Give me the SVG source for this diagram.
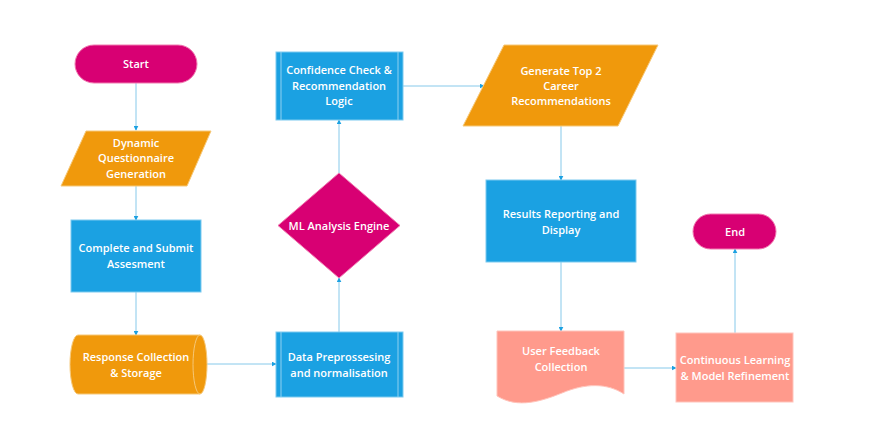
<svg xmlns="http://www.w3.org/2000/svg" width="871" height="444" viewBox="0 0 871 444">
<defs>
<style>
.t{font-family:"Open Sans","Liberation Sans",sans-serif;font-size:11px;font-weight:600;fill:#ffffff;text-anchor:middle}
.pink{fill:#d80073;stroke:#f07ab0;stroke-width:1}
.orange{fill:#f0990c;stroke:#f6c878;stroke-width:1}
.blue{fill:#1ba1e2;stroke:#7ccaef;stroke-width:1}
.salmon{fill:#ff9a8c;stroke:#ffc4bb;stroke-width:1}
.inner{fill:none;stroke:#8fd0f0;stroke-width:1}
.edge{fill:none;stroke:#86c9ea;stroke-width:1;marker-end:url(#arr)}
</style>
<marker id="arr" viewBox="0 0 8 8" refX="7" refY="4" markerWidth="5" markerHeight="5" orient="auto" markerUnits="userSpaceOnUse">
<path d="M0,0 L8,4 L0,8 Z" fill="#1ba1e2"/>
</marker>
</defs>
<rect width="871" height="444" fill="#ffffff"/>
<g id="connectors">
<path class="edge" d="M136,83 V130"/>
<path class="edge" d="M136,186 V220"/>
<path class="edge" d="M136,292 V335"/>
<path class="edge" d="M201,364 H276"/>
<path class="edge" d="M339,332 V278"/>
<path class="edge" d="M339,173 V120"/>
<path class="edge" d="M403,86 H484"/>
<path class="edge" d="M561,126 V180"/>
<path class="edge" d="M561,262 V331"/>
<path class="edge" d="M624,368 H676"/>
<path class="edge" d="M735,333 V249"/>
</g>
<g id="start">
<rect class="pink" x="75" y="45" width="122" height="38" rx="19"/>
<text class="t" x="136" y="68">Start</text>
</g>
<g id="questionnaire">
<polygon class="orange" points="86,131 211,131 187,186 61,186"/>
<text class="t" x="136" y="147">Dynamic</text>
<text class="t" x="136" y="162">Questionnaire</text>
<text class="t" x="136" y="178">Generation</text>
</g>
<g id="submit">
<rect class="blue" x="71" y="220" width="130" height="72"/>
<text class="t" x="136" y="252">Complete and Submit</text>
<text class="t" x="136" y="268">Assesment</text>
</g>
<g id="storage">
<path class="orange" d="M78,335 H200 A7,29.5 0 0 1 200,394 H78 A8,29.5 0 0 1 78,335 Z"/>
<path d="M200,335 A7,29.5 0 0 0 200,394" fill="none" stroke="#f6c878" stroke-width="1"/>
<text class="t" x="136" y="361">Response Collection</text>
<text class="t" x="136" y="377">&amp; Storage</text>
</g>
<g id="preprocess">
<rect class="blue" x="276" y="332" width="127" height="65"/>
<path class="inner" d="M281,332 V397 M398,332 V397"/>
<text class="t" x="339" y="361">Data Preprossesing</text>
<text class="t" x="339" y="377">and normalisation</text>
</g>
<g id="ml">
<polygon class="pink" points="339,173 400,225.5 339,278 278,225.5"/>
<text class="t" x="339" y="230">ML Analysis Engine</text>
</g>
<g id="confidence">
<rect class="blue" x="276" y="52" width="127" height="68"/>
<path class="inner" d="M281,52 V120 M398,52 V120"/>
<text class="t" x="339" y="74">Confidence Check &amp;</text>
<text class="t" x="339" y="90">Recommendation</text>
<text class="t" x="339" y="105">Logic</text>
</g>
<g id="generate">
<polygon class="orange" points="504,45 658,45 618,126 463,126"/>
<text class="t" x="561" y="75">Generate Top 2</text>
<text class="t" x="561" y="90">Career</text>
<text class="t" x="561" y="105">Recommendations</text>
</g>
<g id="results">
<rect class="blue" x="486" y="180" width="150" height="82"/>
<text class="t" x="561" y="218">Results Reporting and</text>
<text class="t" x="561" y="234">Display</text>
</g>
<g id="feedback">
<path class="salmon" d="M497,331 H624 V394 C607,383 586,383 562,393 C542,401 518,409 497,396 Z"/>
<text class="t" x="561" y="355">User Feedback</text>
<text class="t" x="561" y="371">Collection</text>
</g>
<g id="refinement">
<rect class="salmon" x="676" y="333" width="117" height="69"/>
<text class="t" x="735" y="364">Continuous Learning</text>
<text class="t" x="735" y="380">&amp; Model Refinement</text>
</g>
<g id="end">
<rect class="pink" x="693" y="214" width="83" height="35" rx="17.5"/>
<text class="t" x="735" y="236">End</text>
</g>
</svg>
